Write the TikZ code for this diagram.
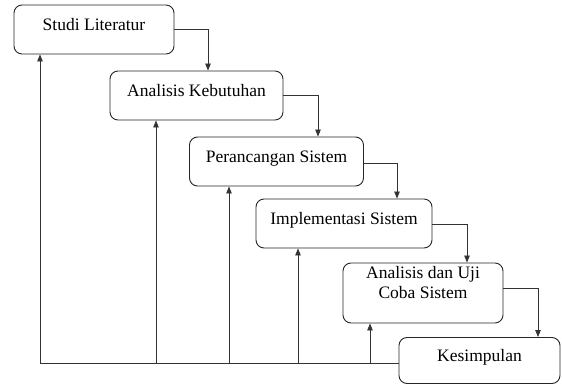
\documentclass[tikz,border=0pt]{standalone}
\usepackage{fontspec}
\setmainfont{Liberation Serif}
\usetikzlibrary{positioning,arrows.meta}

\tikzset{
  tahap/.style={draw=black!85, line width=0.9pt, rounded corners=8pt, minimum width=#1, minimum height=49pt,
    inner sep=0pt, align=center, text height=11.8pt, text depth=9.8pt,
    font=\fontsize{17.5}{20}\selectfont},
  tahap/.default=160pt,
  alur/.style={-{Triangle[length=7pt,width=5.5pt]}, draw=black!80, line width=0.8pt}
}

\begin{document}
\begin{tikzpicture}[x=1pt,y=-1pt,node distance=2cm,on grid,auto]
    \useasboundingbox (0,0) rectangle (562,385);

		\node[tahap]		 	(lit)	at (94,29.5)                   		{Studi Literatur};
        \node[tahap=173pt] 		(keb) 	[below right=66pt and 102.5pt of lit]	{Analisis Kebutuhan};
        \node[tahap=174pt]		(ran)	[below right=66pt and 80pt of keb]		{Perancangan Sistem};
        \node[tahap=176pt]		(imp)	[below right=62pt and 67.5pt of ran]	{Implementasi Sistem};
        \node[tahap, minimum height=60pt, text depth=1.6pt]
                                (uji)	[below right=69.5pt and 79pt of imp]	{Analisis dan Uji\\Coba Sistem};
        \node[tahap=161pt, minimum height=46pt]
                                (kes)	[below right=67.5pt and 56.5pt of uji]	{Kesimpulan};

        % alur maju
        \draw[alur] (lit.east) -| ([xshift=11.5pt]keb.north);
        \draw[alur] (keb.east) -| ([xshift=41.5pt]ran.north);
        \draw[alur] ([yshift=-2pt]ran.east) -| ([xshift=53pt]imp.north);
        \draw[alur] ([yshift=-1pt]imp.east) -| ([xshift=44pt]uji.north);
        \draw[alur] ([yshift=5pt]uji.east) -| ([xshift=58.5pt]kes.north);

        % alur balik
        \coordinate (b1) at (40,363);
        \coordinate (b2) at (156,363);
        \coordinate (b3) at (229,363);
        \coordinate (b4) at (298,363);
        \coordinate (b5) at (370,363);
        \draw[draw=black!80, line width=0.8pt] (b1) -- (b1 -| kes.west);
        \draw[alur] (b1) -- (b1 |- lit.south);
        \draw[alur] (b2) -- (b2 |- keb.south);
        \draw[alur] (b3) -- (b3 |- ran.south);
        \draw[alur] (b4) -- (b4 |- imp.south);
        \draw[alur] (b5) -- (b5 |- uji.south);
\end{tikzpicture}
\end{document}
